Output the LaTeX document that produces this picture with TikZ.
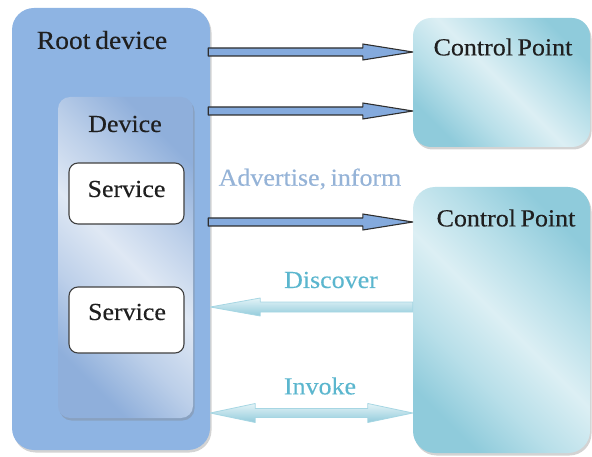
\documentclass[tikz,border=0pt]{standalone}
\usepackage{fontspec}
\setmainfont[FakeStretch=1.06, FakeBold=0.3, WordSpace=0.7]{Liberation Serif}
\usetikzlibrary{calc,shadows}
\definecolor{rootblue}{HTML}{8EB4E3}
\definecolor{devlight}{HTML}{DFE8F4}
\definecolor{devmid}{HTML}{BCCFE9}
\definecolor{devdark}{HTML}{8FAFDB}
\definecolor{cpdark}{HTML}{8FCBDB}
\definecolor{cpmid}{HTML}{B8DFE9}
\definecolor{cplight}{HTML}{DCEFF4}
\definecolor{advtext}{HTML}{95B3D7}
\definecolor{aquatext}{HTML}{5BB6CE}
\definecolor{arrowfill}{HTML}{84AADD}
\definecolor{arrowline}{HTML}{2E2E2E}
\definecolor{aqarrowtop}{HTML}{E3F3F7}
\definecolor{aqarrowbot}{HTML}{92CBDB}
\definecolor{aqarrowline}{HTML}{A6D6E3}
\pgfdeclareverticalshading{devshade}{100bp}{color(0bp)=(devdark); color(25bp)=(devdark); color(37bp)=(devmid); color(50bp)=(devlight); color(62bp)=(devmid); color(75bp)=(devdark); color(100bp)=(devdark)}
\pgfdeclareverticalshading{cpshade}{100bp}{color(0bp)=(cpdark); color(25bp)=(cpdark); color(37bp)=(cpmid); color(50bp)=(cplight); color(62bp)=(cpmid); color(75bp)=(cpdark); color(100bp)=(cpdark)}
\newcommand\fatarrow[6]{% start, end, style, head offset, shaft half, head half
  \path[#3] ($(#1)+(0,-#5)$) -- ($(#2)+(#4,-#5)$) -- ($(#2)+(#4,-#6)$) -- (#2)
    -- ($(#2)+(#4,#6)$) -- ($(#2)+(#4,#5)$) -- ($(#1)+(0,#5)$) -- cycle;}
\tikzset{
  box/.style={rectangle, inner sep=0pt, anchor=center},
  lbl/.style={font=\fontsize{24.5}{28}\selectfont, inner sep=0pt, text=black!88},
  shad/.style={drop shadow={opacity=0.35, shadow xshift=1.5pt, shadow yshift=-2.5pt}},
  darrow/.style={draw=arrowline, line width=1.1pt, fill=arrowfill, line join=round},
  aarrow/.style={draw=aqarrowline, line width=0.8pt, top color=aqarrowtop, bottom color=aqarrowbot, line join=round},
}
\begin{document}
\begin{tikzpicture}[x=1pt, y=-1pt]
\useasboundingbox (0,0) rectangle (592,457);
% root device
\node[box, shad, fill=rootblue, rounded corners=22pt, minimum width=198pt, minimum height=442pt] (root) at (111,229) {};
\node[lbl, font=\fontsize{26}{29}\selectfont] (rootlbl) at (102,40) {Root device};
% device
\node[box, shad, shading=devshade, shading angle=-45, rounded corners=12pt, minimum width=135pt, minimum height=321pt] (dev) at (125.5,257.5) {};
\node[lbl] (devlbl) at (125,124) {Device};
% services
\node[box, fill=white, draw=black!75, line width=1.1pt, rounded corners=9pt, minimum width=115pt, minimum height=61pt] (svc1) at (126.5,193.5) {};
\node[lbl] (svc1lbl) at (126.5,189) {Service};
\node[box, fill=white, draw=black!75, line width=1.1pt, rounded corners=9pt, minimum width=115pt, minimum height=66pt] (svc2) at (126.5,320) {};
\node[lbl] (svc2lbl) at (127,312) {Service};
% control points
\node[box, shad, shading=cpshade, shading angle=-45, rounded corners=18pt, minimum width=177pt, minimum height=129pt] (cp1) at (501.5,82.5) {};
\node[lbl] (cp1lbl) at (503,47) {Control Point};
\node[box, shad, shading=cpshade, shading angle=-45, rounded corners=22pt, minimum width=177pt, minimum height=266pt] (cp2) at (501.5,320) {};
\node[lbl] (cp2lbl) at (506,218) {Control Point};
% arrow end points
\coordinate (s1) at ([xshift=-2pt]root.east |- 0,52);
\coordinate (e1) at (cp1.west |- 0,52);
\coordinate (s2) at ([xshift=-2pt]root.east |- 0,111);
\coordinate (e2) at (cp1.west |- 0,111);
\coordinate (s3) at ([xshift=-2pt]root.east |- 0,222);
\coordinate (e3) at (cp2.west |- 0,222);
\coordinate (s4) at (cp2.west |- 0,307);
\coordinate (e4) at (root.east |- 0,307);
\coordinate (s5) at (root.east |- 0,413);
\coordinate (e5) at (cp2.west |- 0,413);
\fatarrow{s1}{e1}{darrow}{-50}{4}{8}
\fatarrow{s2}{e2}{darrow}{-50}{4}{8}
\fatarrow{s3}{e3}{darrow}{-50}{4}{8}
\fatarrow{s4}{e4}{aarrow}{50}{5}{9}
\path[aarrow] (s5) -- ($(s5)+(45,-9.5)$) -- ($(s5)+(45,-4.5)$) -- ($(e5)+(-45,-4.5)$) -- ($(e5)+(-45,-9.5)$) -- (e5)
  -- ($(e5)+(-45,9.5)$) -- ($(e5)+(-45,4.5)$) -- ($(s5)+(45,4.5)$) -- ($(s5)+(45,9.5)$) -- cycle;
% labels
\node[lbl, text=advtext] (adv) at (310,179) {Advertise, inform};
\node[lbl, text=aquatext] (disc) at (331,280) {Discover};
\node[lbl, text=aquatext] (inv) at (320,386) {Invoke};
\end{tikzpicture}
\end{document}
